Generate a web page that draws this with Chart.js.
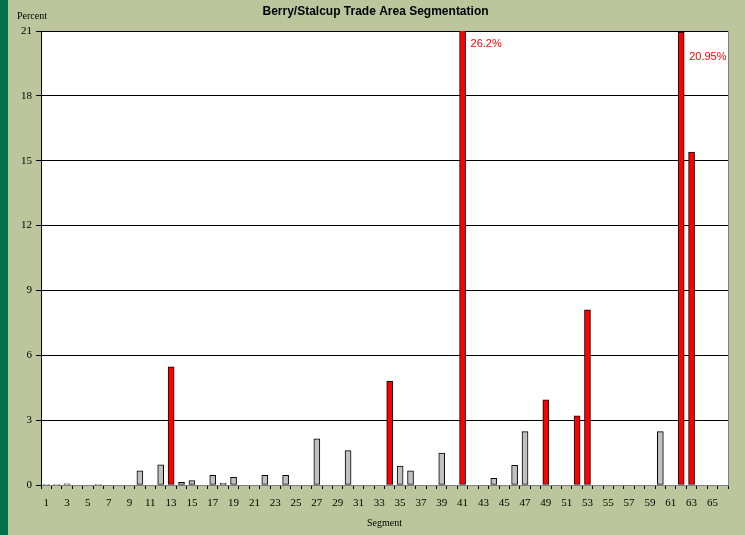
<!DOCTYPE html>
<html>
<head>
<meta charset="utf-8">
<script src="https://cdn.jsdelivr.net/npm/chart.js@4/dist/chart.umd.min.js"></script>
<style>
  html, body { margin:0; padding:0; }
  body { width:745px; height:535px; background:#bdc59c; position:relative; overflow:hidden; }
  #strip { position:absolute; left:0; top:0; width:8px; height:535px; background:#03704b; }
  #wrap { position:absolute; left:0; top:0; width:745px; height:535px; }
</style>
</head>
<body>
<div id="strip"></div>
<div id="wrap"><canvas id="chart"></canvas></div>
<script>
// segment numbers 1..66
const segments = Array.from({length: 66}, (_, i) => String(i + 1));

// percent per segment
const percents = [
  0.03, 0.03, 0.05, 0, 0, 0.03, 0, 0, 0, 0.65,
  0, 0.93, 5.47, 0.12, 0.2, 0, 0.45, 0.08, 0.36, 0,
  0, 0.45, 0, 0.45, 0, 0, 2.13, 0, 0, 1.59,
  0, 0, 0, 4.79, 0.87, 0.65, 0, 0, 1.48, 0,
  26.2, 0, 0, 0.31, 0, 0.91, 2.47, 0, 3.94, 0,
  0, 3.2, 8.1, 0, 0, 0, 0, 0, 0, 2.47,
  0, 20.95, 15.4, 0, 0, 0
];

// segments drawn in red
const redSegments = [13, 34, 41, 49, 52, 53, 62, 63];

// value labels for the bars that run off the top
const callouts = [
  { seg: 41, text: '26.2%' },
  { seg: 62, text: '20.95%' }
];

const yTicks = [0, 3, 6, 9, 12, 15, 18, 21];

const barColors = segments.map(s => redSegments.includes(Number(s)) ? '#ff0000' : '#c0c0c0');

// title, "Percent" label, callouts
const extras = {
  id: 'extras',
  afterDraw(chart) {
    const c = chart.ctx;
    const area = chart.chartArea;
    const x = chart.scales.x;
    c.save();
    c.fillStyle = '#000';
    c.font = 'bold 12px "Liberation Sans", Arial, sans-serif';
    c.textAlign = 'center';
    c.textBaseline = 'middle';
    c.fillText('Berry/Stalcup Trade Area Segmentation', chart.width / 2 + 3, 12);
    c.font = '10px "Liberation Serif", "Times New Roman", serif';
    c.textAlign = 'left';
    c.fillText('Percent', 17, 16);
    c.fillStyle = '#ff0000';
    c.font = '11px "Liberation Sans", Arial, sans-serif';
    callouts.forEach((o, i) => {
      const px = x.getPixelForValue(o.seg - 1);
      c.fillText(o.text, px + 8, area.top + (i === 0 ? 13 : 26));
    });
    c.restore();
  }
};

new Chart(document.getElementById('chart'), {
  type: 'bar',
  data: {
    labels: segments,
    datasets: [{
      data: percents,
      backgroundColor: barColors,
      borderColor: '#000',
      borderWidth: 1,
      borderSkipped: false,
      barThickness: 6
    }]
  },
  options: {
    responsive: true,
    maintainAspectRatio: false,
    animation: false,
    layout: { padding: { top: 31, right: 17, left: 0, bottom: 0 } },
    plugins: {
      legend: { display: false },
      tooltip: { enabled: false }
    },
    scales: {
      x: {
        offset: true,
        grid: {
          offset: true,
          drawOnChartArea: false,
          drawTicks: true,
          tickLength: 4,
          color: '#000'
        },
        border: { color: '#808080', width: 1 },
        ticks: {
          color: '#000',
          font: { family: '"Liberation Serif", "Times New Roman", serif', size: 11 },
          autoSkip: false,
          maxRotation: 0,
          padding: 8,
          callback: (v, i) => (i % 2 === 0 ? segments[i] : '')
        },
        title: {
          display: true,
          text: 'Segment',
          color: '#000',
          font: { family: '"Liberation Serif", "Times New Roman", serif', size: 10 },
          padding: { top: 2, bottom: 6 }
        },
        afterFit: s => { s.height = 50; }
      },
      y: {
        min: 0,
        max: 21,
        afterBuildTicks: s => { s.ticks = yTicks.map(v => ({ value: v })); },
        grid: {
          color: '#000',
          lineWidth: 1,
          drawTicks: true,
          tickLength: 5
        },
        border: { color: '#000', width: 1 },
        ticks: {
          color: '#000',
          font: { family: '"Liberation Serif", "Times New Roman", serif', size: 11 },
          padding: 4
        },
        afterFit: s => { s.width = 41; }
      }
    }
  },
  plugins: [extras, {
    id: 'plotBg',
    beforeDraw(chart) {
      const a = chart.chartArea;
      const c = chart.ctx;
      c.save();
      c.fillStyle = '#ffffff';
      c.fillRect(a.left, a.top, a.right - a.left, a.bottom - a.top);
      c.strokeStyle = '#808080';
      c.lineWidth = 1;
      c.beginPath();
      c.moveTo(a.left, a.top + 0.5);
      c.lineTo(a.right + 0.5, a.top + 0.5);
      c.lineTo(a.right + 0.5, a.bottom);
      c.stroke();
      c.restore();
    }
  }]
});
</script>
</body>
</html>
